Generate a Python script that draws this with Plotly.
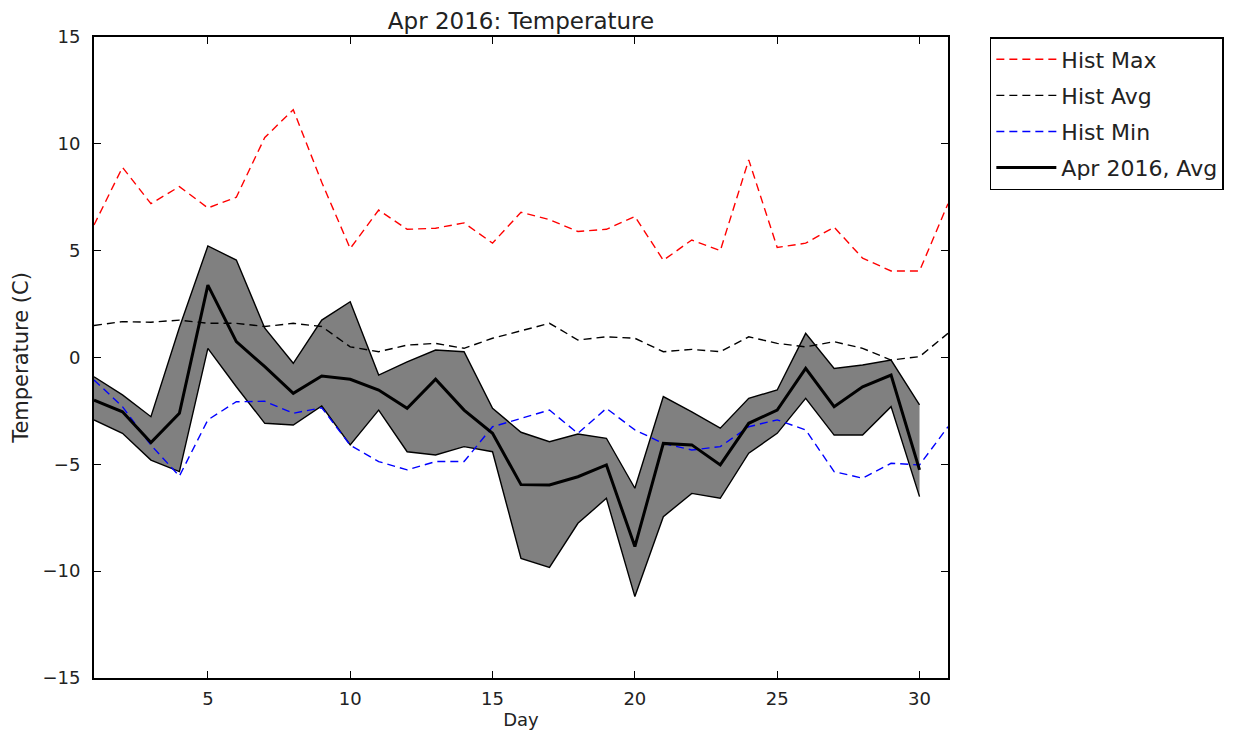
import plotly.graph_objects as go

days = list(range(1, 32))
days_2016 = list(range(1, 31))

hist_max = [6.2, 8.9, 7.2, 8.0, 7.0, 7.5, 10.3, 11.6, 8.2, 5.1, 6.9, 6.0, 6.05, 6.3, 5.35,
            6.8, 6.45, 5.9, 6.0, 6.6, 4.55, 5.5, 5.0, 9.25, 5.15, 5.35, 6.1, 4.65, 4.05, 4.05, 7.2]
hist_avg = [1.5, 1.68, 1.65, 1.75, 1.6, 1.6, 1.45, 1.6, 1.45, 0.5, 0.27, 0.58, 0.66, 0.43, 0.9,
            1.25, 1.6, 0.82, 0.97, 0.9, 0.27, 0.38, 0.27, 0.97, 0.66, 0.5, 0.74, 0.43, -0.12, 0.04, 1.13]
hist_min = [-1.05, -2.3, -4.1, -5.55, -2.92, -2.07, -2.05, -2.61, -2.35, -4.1, -4.87, -5.26, -4.87,
            -4.87, -3.24, -2.85, -2.46, -3.55, -2.38, -3.39, -4.02, -4.33, -4.17, -3.24, -2.92, -3.39,
            -5.34, -5.65, -4.95, -5.03, -3.24]

avg_2016 = [-1.99, -2.54, -3.98, -2.61, 3.39, 0.74, -0.43, -1.68, -0.87, -1.02, -1.52, -2.38, -1.02,
            -2.46, -3.55, -5.95, -5.97, -5.58, -5.03, -8.85, -4.02, -4.09, -5.03, -3.08, -2.46, -0.51,
            -2.3, -1.37, -0.82, -5.26]
max_2016 = [-0.9, -1.75, -2.77, 1.4, 5.22, 4.56, 1.37, -0.27, 1.75, 2.61, -0.82, -0.2, 0.35, 0.27,
            -2.38, -3.5, -3.94, -3.58, -3.78, -6.12, -1.83, -2.54, -3.31, -1.91, -1.52, 1.13, -0.51,
            -0.35, -0.12, -2.22]
min_2016 = [-2.92, -3.55, -4.8, -5.34, 0.43, -1.37, -3.08, -3.16, -2.27, -4.09, -2.46, -4.41, -4.56,
            -4.17, -4.41, -9.4, -9.82, -7.76, -6.59, -11.19, -7.45, -6.36, -6.59, -4.48, -3.55, -1.91,
            -3.63, -3.63, -2.3, -6.51]

x_ticks = [5, 10, 15, 20, 25, 30]
y_ticks = [-15, -10, -5, 0, 5, 10, 15]

FONT = "DejaVu Sans"
DASH = "8px,5px"

fig = go.Figure()

fig.add_trace(go.Scatter(x=days_2016, y=min_2016, mode="lines", legendgroup="band",
                         line=dict(color="black", width=1.4), showlegend=False, hoverinfo="skip"))
fig.add_trace(go.Scatter(x=days_2016, y=max_2016, mode="lines", fill="tonexty", legendgroup="band",
                         fillcolor="#808080",
                         line=dict(color="black", width=1.4), showlegend=False, hoverinfo="skip"))

fig.add_trace(go.Scatter(x=days, y=hist_max, mode="lines", name="Hist Max", legendgroup="g1",
                         line=dict(color="#ff0000", width=1.4, dash=DASH)))
fig.add_trace(go.Scatter(x=days, y=hist_avg, mode="lines", name="Hist Avg", legendgroup="g2",
                         line=dict(color="black", width=1.4, dash=DASH)))
fig.add_trace(go.Scatter(x=days, y=hist_min, mode="lines", name="Hist Min", legendgroup="g3",
                         line=dict(color="#0000ff", width=1.4, dash=DASH)))
fig.add_trace(go.Scatter(x=days_2016, y=avg_2016, mode="lines", name="Apr 2016, Avg", legendgroup="g4",
                         line=dict(color="black", width=3)))

axis_common = dict(showline=True, linecolor="black", linewidth=2, mirror="ticks",
                   ticks="inside", ticklen=7, tickcolor="black", tickwidth=1,
                   showgrid=False, zeroline=False,
                   tickfont=dict(family=FONT, size=18, color="#222222"))

fig.update_layout(
    width=1238, height=738,
    margin=dict(l=84, r=298, t=29, b=68),
    paper_bgcolor="white", plot_bgcolor="white",
    font=dict(family=FONT, size=18, color="#222222"),
    title=dict(text="Apr 2016: Temperature", xref="paper", x=0.5, xanchor="center",
               yref="container", y=0.983, yanchor="middle",
               font=dict(family=FONT, size=23, color="#222222")),
    xaxis=dict(range=[1, 31], tickvals=x_ticks, ticklabelstandoff=3,
               title=dict(text="Day", font=dict(size=18), standoff=4), **axis_common),
    yaxis=dict(range=[-15, 15], tickvals=y_ticks, ticklabelstandoff=8,
               title=dict(text="Temperature (C)", font=dict(size=21), standoff=8), **axis_common),
    legend=dict(x=1.049, y=1.0, xanchor="left", yanchor="top",
                bordercolor="black", borderwidth=1.5, bgcolor="white",
                font=dict(family=FONT, size=22, color="#222222"),
                traceorder="grouped", tracegroupgap=4.5, itemwidth=60),
)

fig.write_html("out.html")
